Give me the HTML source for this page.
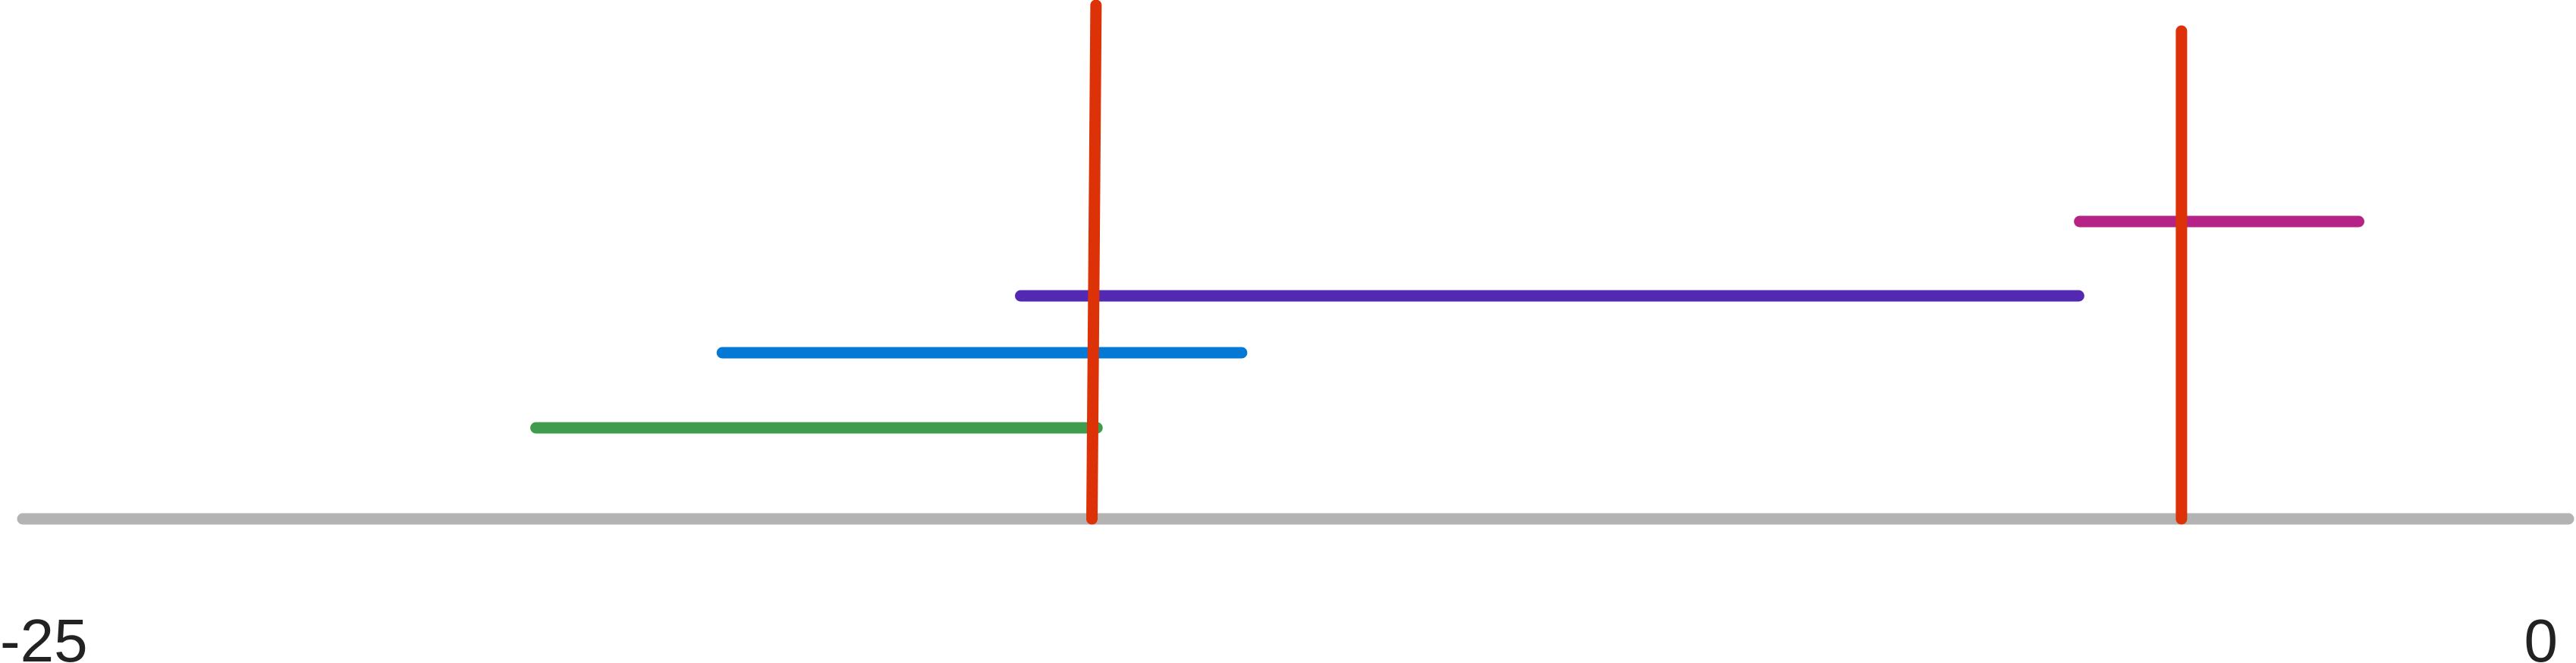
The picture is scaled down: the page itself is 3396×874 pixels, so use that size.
<!DOCTYPE html>
<html><head><meta charset="utf-8"><style>
html,body{margin:0;padding:0;background:#fff;}
svg{display:block;}
</style></head><body>
<svg id="chart" width="3396" height="874" viewBox="0 0 3396 874" xmlns="http://www.w3.org/2000/svg">
<line x1="30" y1="684" x2="3386" y2="684" stroke="#b3b3b3" stroke-width="15" stroke-linecap="round"/>
<g id="marks"></g>
<text x="0" y="872" font-family="Liberation Sans, sans-serif" font-size="80" fill="#222">-25</text>
<text x="3372" y="872" text-anchor="end" font-family="Liberation Sans, sans-serif" font-size="80" fill="#222">0</text>
</svg>
<script>
const hNames = ['green-interval','blue-interval','purple-interval','magenta-interval'];
const hStart = [-19.96, -18.13, -15.20, -4.80];
const hEnd = [-14.45, -13.03, -4.81, -2.06];
const hLevel = [1.20, 2.19, 2.94, 3.92];
const hColors = ['#3e9c4c','#0379d5','#5329b3','#b42385'];
const vNames = ['red-marker-1','red-marker-2'];
const vBottomX = [-14.50, -3.80];
const vTopX = [-14.46, -3.80];
const vTop = [6.77, 6.43];

const xMin = -25, xMax = 0;
function xs(v){ return 30 + (v - xMin) / (xMax - xMin) * 3356; }
function ys(v){ return 684 - v * 100; }

const g = document.getElementById('marks');
const NS = 'http://www.w3.org/2000/svg';
function mk(x1,y1,x2,y2,c){
  const l = document.createElementNS(NS,'line');
  l.setAttribute('x1',x1); l.setAttribute('y1',y1);
  l.setAttribute('x2',x2); l.setAttribute('y2',y2);
  l.setAttribute('stroke',c); l.setAttribute('stroke-width','15');
  l.setAttribute('stroke-linecap','round');
  g.appendChild(l);
  return l;
}
for (let i = 0; i < hStart.length; i++) {
  const l = mk(xs(hStart[i]), ys(hLevel[i]), xs(hEnd[i]), ys(hLevel[i]), hColors[i]);
  
  
}
for (let i = 0; i < vTop.length; i++) {
  const l = mk(xs(vTopX[i]), ys(vTop[i]), xs(vBottomX[i]), ys(0), '#dd3108');
  
  
}
</script>
</body></html>
